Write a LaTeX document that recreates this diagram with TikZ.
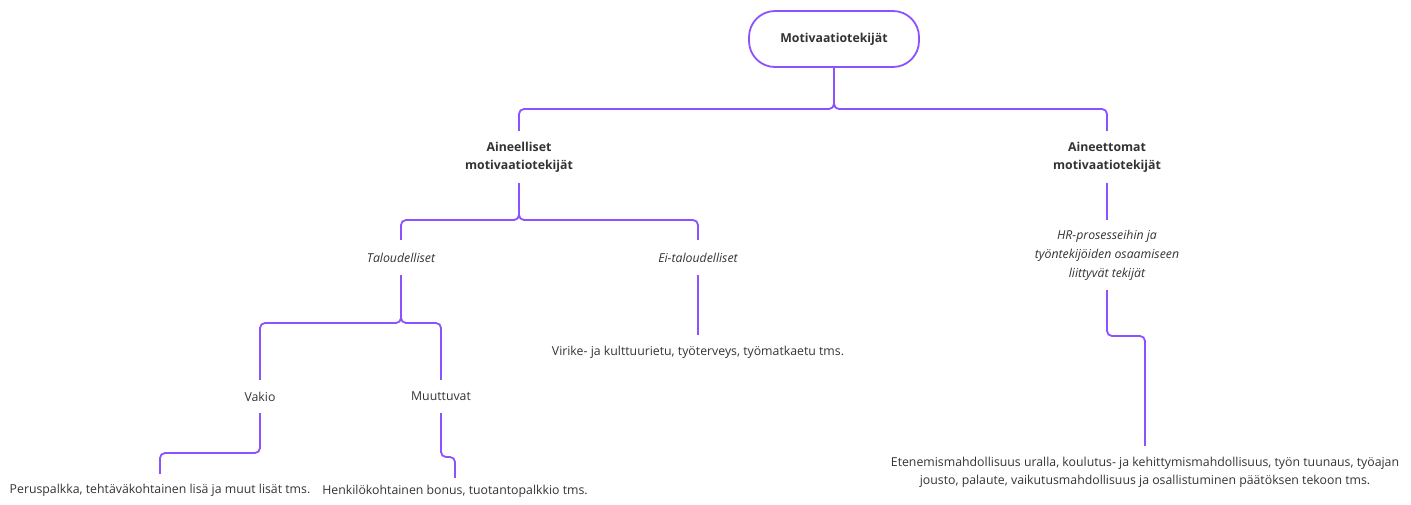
\documentclass[tikz,border=0pt]{standalone}
\usepackage{fontspec}
\setmainfont{Open Sans}
\definecolor{lineviolet}{HTML}{8C52FF}
\definecolor{txtgray}{HTML}{333333}
\begin{document}
\begin{tikzpicture}[x=1pt,y=-1pt,
  conn/.style={draw=lineviolet,line width=1.8pt,rounded corners=5pt},
  lbl/.style={font=\fontsize{12.3}{18}\selectfont,text=txtgray,inner sep=0pt,align=center},
  boldlbl/.style={lbl,font=\fontsize{12.3}{18}\selectfont\bfseries},
  itlbl/.style={lbl,font=\fontsize{12.3}{19}\selectfont\itshape},
  pill/.style={draw=lineviolet,line width=1.8pt,rounded corners=26pt,minimum width=170pt,minimum height=56pt,fill=white,font=\fontsize{12.3}{18}\selectfont\bfseries,text=txtgray}]
\useasboundingbox (0,0) rectangle (1411,504);
\node[pill] (top) at (834,39) {Motivaatiotekijät};
\node[boldlbl,minimum height=52pt] (ain) at (519,157) {Aineelliset\\motivaatiotekijät};
\node[boldlbl,minimum height=52pt] (aet) at (1107,157) {Aineettomat\\motivaatiotekijät};
\node[itlbl,minimum height=35pt] (talo) at (401,257.5) {Taloudelliset};
\node[itlbl,minimum height=35pt] (ei) at (698,257.5) {Ei-taloudelliset};
\node[itlbl,minimum height=70pt] (hr) at (1107,255) {HR-prosesseihin ja\\työntekijöiden osaamiseen\\liittyvät tekijät};
\node[lbl,minimum height=33pt] (vakio) at (260,396.5) {Vakio};
\node[lbl,minimum height=33pt] (muut) at (441,396.5) {Muuttuvat};
\node[lbl,minimum height=34pt] (vir) at (698,352) {Virike- ja kulttuurietu, työterveys, työmatkaetu tms.};
\node[lbl,minimum height=32pt] (peru) at (160,490) {Peruspalkka, tehtäväkohtainen lisä ja muut lisät tms.};
\node[lbl,minimum height=26pt] (henk) at (455,491) {Henkilökohtainen bonus, tuotantopalkkio tms.};
\node[lbl,minimum height=52pt] (ete) at (1145,472) {Etenemismahdollisuus uralla, koulutus- ja kehittymismahdollisuus, työn tuunaus, työajan\\jousto, palaute, vaikutusmahdollisuus ja osallistuminen päätöksen tekoon tms.};
\draw[conn] (top.south) -- (834,109) -- (ain.north |- 0,109) -- (ain.north);
\draw[conn] (top.south) -- (834,109) -- (aet.north |- 0,109) -- (aet.north);
\draw[conn] (ain.south) -- (519,220) -- (talo.north |- 0,220) -- (talo.north);
\draw[conn] (ain.south) -- (519,220) -- (ei.north |- 0,220) -- (ei.north);
\draw[conn] (talo.south) -- (401,323) -- (vakio.north |- 0,323) -- (vakio.north);
\draw[conn] (talo.south) -- (401,323) -- (muut.north |- 0,323) -- (muut.north);
\draw[conn] (ei.south) -- (vir.north);
\draw[conn] (aet.south) -- (hr.north);
\draw[conn] (vakio.south) -- (260,453) -- (peru.north |- 0,453) -- (peru.north);
\draw[conn] (muut.south) -- (441,457) -- (henk.north |- 0,457) -- (henk.north);
\draw[conn] (hr.south) -- (1107,336) -- (ete.north |- 0,336) -- (ete.north);
\end{tikzpicture}
\end{document}
